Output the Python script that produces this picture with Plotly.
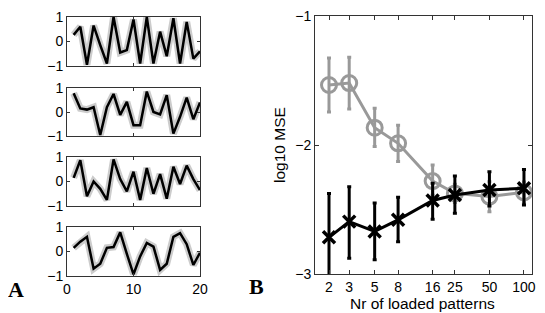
import plotly.graph_objects as go

# ---------------- data ----------------
t = list(range(1, 21))
panel1 = [0.27, 0.6, -0.95, 0.65, -0.15, -0.9, 1.0, -0.45, -0.35, 0.9,
          -0.9, 1.0, -0.9, 0.4, -0.6, 0.95, -0.9, 0.8, -0.7, -0.4]
panel2 = [0.78, 0.15, 0.1, 0.2, -0.96, 0.2, 0.75, -0.12, 0.42, -0.55,
          -0.55, 0.85, 0.0, -0.1, 0.7, -0.9, -0.2, 0.6, -0.3, 0.4]
panel3 = [0.15, 0.87, -0.6, 0.0, -0.3, -0.75, 0.9, 0.1, -0.4, 0.4,
          -0.75, 0.55, -0.5, 0.3, -0.7, 0.6, -0.1, 0.65, 0.1, -0.35]
panel4 = [0.15, 0.4, 0.6, -0.7, -0.5, 0.15, 0.18, 0.78, -0.1, -0.93,
          -0.2, 0.35, 0.2, -0.75, -0.5, 0.6, 0.75, 0.3, -0.55, -0.05]
panels = [panel1, panel2, panel3, panel4]

n_patterns = [2, 3, 5, 8, 16, 25, 50, 100]
n_labels = ["2", "3", "5", "8", "16", "25", "50", "100"]

gray_mse = [-1.535, -1.52, -1.866, -1.987, -2.28, -2.375, -2.40, -2.367]
gray_err_up = [0.21, 0.20, 0.15, 0.14, 0.125, 0.07, 0.115, 0.08]
gray_err_dn = [0.21, 0.20, 0.145, 0.14, 0.11, 0.07, 0.117, 0.08]

black_mse = [-2.716, -2.594, -2.67, -2.58, -2.43, -2.388, -2.349, -2.336]
black_err_up = [0.34, 0.27, 0.22, 0.175, 0.133, 0.148, 0.142, 0.146]
black_err_dn = [0.34, 0.284, 0.22, 0.17, 0.146, 0.142, 0.124, 0.129]

# ---------------- figure ----------------
# page body has an 8px margin; compensate so the picture lines up with the window
OFF = 8
W, H = 545 - OFF, 313 - OFF
fig = go.Figure()

def px_x(x):
    return (x - OFF) / W

def px_y(y):
    return 1 - (y - OFF) / H

def ydom(top, bottom):
    return [px_y(bottom), px_y(top)]

left_dom = [px_x(67), px_x(200)]
panel_px = [(17, 66), (88, 136), (157, 206), (227, 276)]

FONT = "Liberation Sans, Arial, sans-serif"
AXC = "#333333"

common = dict(ticks="inside", tickcolor=AXC, automargin=False,
              showline=True, linecolor=AXC, linewidth=1, mirror="ticks",
              showgrid=False, zeroline=False, ticklabeloverflow="allow",
              tickfont=dict(family=FONT, size=14, color="black"))

for i, vals in enumerate(panels):
    k = i + 1
    xa = "x" if k == 1 else f"x{k}"
    ya = "y" if k == 1 else f"y{k}"
    fig.add_trace(go.Scatter(x=t, y=vals, mode="lines", xaxis=xa, yaxis=ya,
                             line=dict(color="#cccccc", width=7), showlegend=False,
                             hoverinfo="skip"))
    fig.add_trace(go.Scatter(x=t, y=vals, mode="lines", xaxis=xa, yaxis=ya,
                             line=dict(color="black", width=2.5), showlegend=False))
    top, bot = panel_px[i]
    xkey = "xaxis" if k == 1 else f"xaxis{k}"
    ykey = "yaxis" if k == 1 else f"yaxis{k}"
    fig.layout[xkey] = dict(domain=left_dom, anchor=ya, range=[0, 20],
                            tickvals=[0, 10, 20], showticklabels=(k == 4),
                            ticklen=3, **common)
    fig.layout[ykey] = dict(domain=ydom(top, bot), anchor=xa, range=[-1, 1],
                            tickvals=[-1, 0, 1], ticklen=3, **common)

# right panel
fig.add_trace(go.Scatter(x=n_patterns, y=gray_mse, mode="lines+markers",
                         xaxis="x5", yaxis="y5", showlegend=False,
                         line=dict(color="#999999", width=3),
                         marker=dict(symbol="circle-open", size=15, color="#999999",
                                     line=dict(width=3, color="#999999")),
                         error_y=dict(type="data", array=gray_err_up, arrayminus=gray_err_dn,
                                      color="#999999", thickness=3, width=2)))
fig.add_trace(go.Scatter(x=n_patterns, y=black_mse, mode="lines+markers",
                         xaxis="x5", yaxis="y5", showlegend=False,
                         line=dict(color="black", width=3),
                         marker=dict(symbol="x-thin", size=12, color="black",
                                     line=dict(width=3.5, color="black")),
                         error_y=dict(type="data", array=black_err_up, arrayminus=black_err_dn,
                                      color="black", thickness=3, width=2)))

fig.layout["xaxis5"] = dict(domain=[px_x(315), px_x(532)], anchor="y5", type="log",
                            range=[0.179, 2.07], tickvals=n_patterns, ticktext=n_labels,
                            ticklen=4, **common)
fig.layout["yaxis5"] = dict(domain=ydom(16, 274), anchor="x5", range=[-3, -1],
                            tickvals=[-3, -2, -1], ticklen=4, **common)

ann = [
    dict(text="log10 MSE", x=px_x(279), y=px_y(145), textangle=-90,
         font=dict(family=FONT, size=15.5, color="black")),
    dict(text="Nr of loaded patterns", x=px_x(422), y=px_y(303),
         font=dict(family=FONT, size=15.5, color="black")),
    dict(text="<b>A</b>", x=px_x(16), y=px_y(289),
         font=dict(family="Liberation Serif, Times New Roman, serif", size=22, color="black")),
    dict(text="<b>B</b>", x=px_x(256), y=px_y(286),
         font=dict(family="Liberation Serif, Times New Roman, serif", size=22, color="black")),
]
for a in ann:
    a.update(xref="paper", yref="paper", showarrow=False, xanchor="center", yanchor="middle")
fig.update_layout(annotations=ann, width=W, height=H,
                  margin=dict(l=0, r=0, t=0, b=0, autoexpand=False),
                  paper_bgcolor="white", plot_bgcolor="white")

fig.write_html("out.html")
